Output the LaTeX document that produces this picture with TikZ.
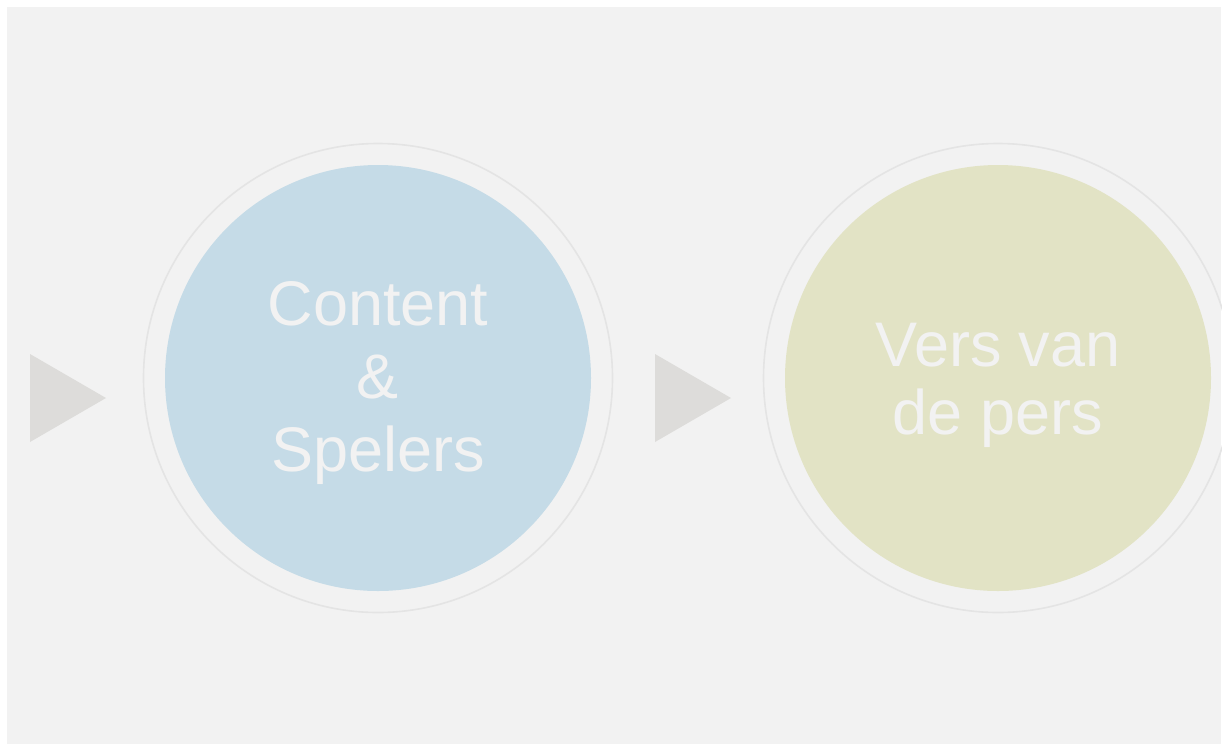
\documentclass[tikz,border=0pt]{standalone}
\usepackage{fontspec}
\setmainfont{Liberation Sans}
\definecolor{panelgray}{HTML}{F2F2F2}
\definecolor{ringgray}{HTML}{E4E4E4}
\definecolor{arrowgray}{HTML}{DDDCDA}
\definecolor{stepblue}{HTML}{C5DBE7}
\definecolor{stepgreen}{HTML}{E2E3C5}
\definecolor{labelwhite}{HTML}{F2F2F2}
\begin{document}
\begin{tikzpicture}%
	[x=1pt, y=-1pt,
	panel/.style={fill=panelgray},
	ring/.style={circle, draw=ringgray, line width=1.6pt, minimum size=469pt, inner sep=0pt},
	disc/.style={circle, minimum size=426pt, inner sep=0pt},
	arrowhead/.style={fill=arrowgray},
	steplabel/.style={text=labelwhite, align=center, font=\fontsize{63}{73}\selectfont}]
%
\useasboundingbox (0,0) rectangle (1222,745);
\fill[panel] (7,7) rectangle (1221,744);
%%
%% Arrow heads
%%
\fill[arrowhead] (30,354) -- (106,398) -- (30,442) -- cycle;
\fill[arrowhead] (655,354) -- (731,398) -- (655,442) -- cycle;
%%
%% First step
%%
\node[ring] (ringA) at (378,378) {};
\node[disc, fill=stepblue] (stepA) at (ringA.center) {};
\node[steplabel] (labelA) at ([yshift=-5pt]stepA.center) {Content\\\&\\Spelers};
%%
%% Second step
%%
\node[ring] (ringB) at (998,378) {};
\node[disc, fill=stepgreen] (stepB) at (ringB.center) {};
\node[steplabel, font=\fontsize{63}{68}\selectfont] (labelB) at ([yshift=-7pt]stepB.center) {Vers van\\de pers};
\end{tikzpicture}
\end{document}
